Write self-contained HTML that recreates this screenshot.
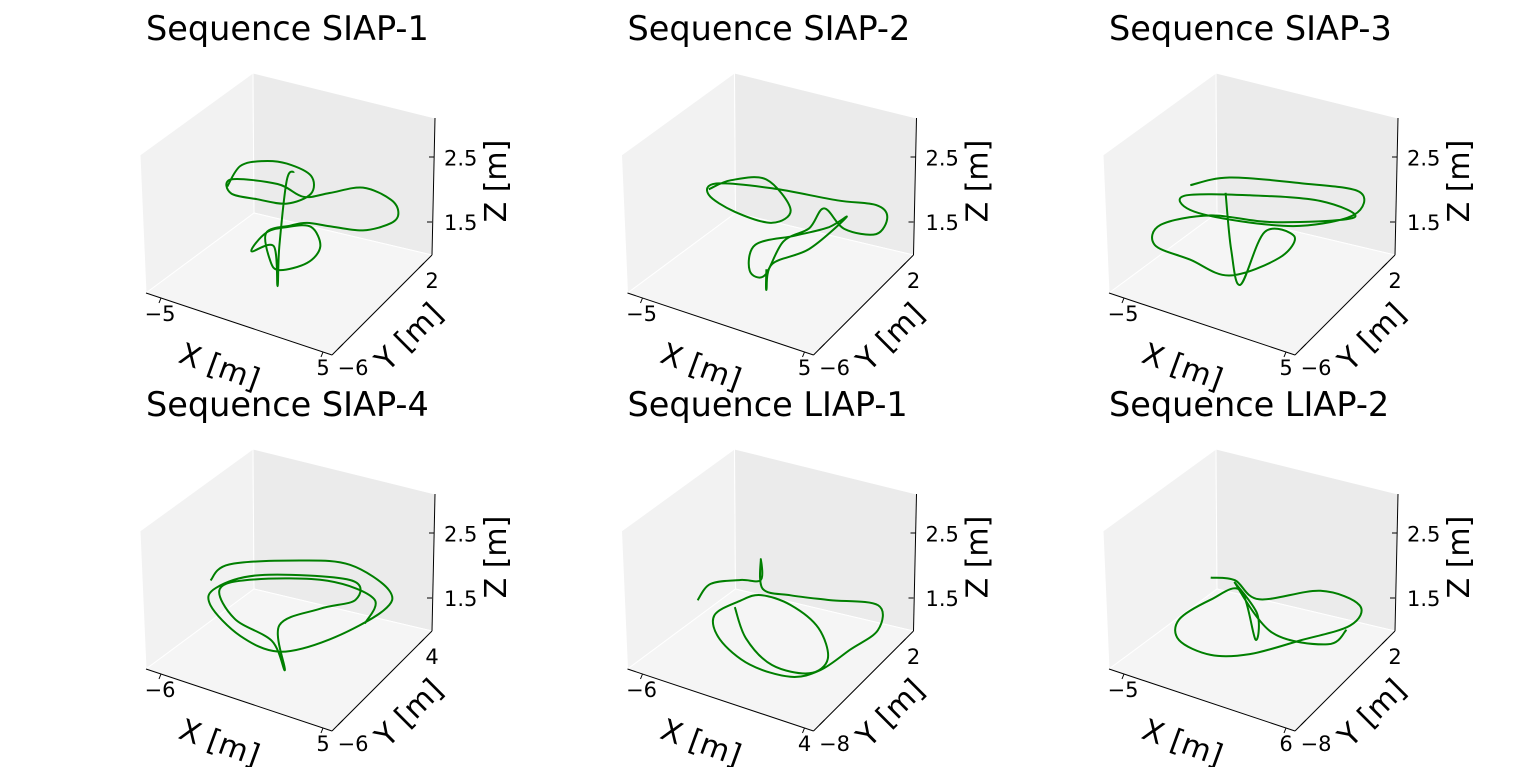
<!DOCTYPE html>
<html><head><meta charset="utf-8">
<style>
html,body{margin:0;padding:0;background:#fff;}
svg{display:block;font-family:"DejaVu Sans","Liberation Sans",sans-serif;}
</style></head>
<body>
<svg id="fig" width="1536" height="767" viewBox="0 0 1536 767" xmlns="http://www.w3.org/2000/svg"></svg>
<script>
// Panel titles and tick labels
const titles = ["Sequence SIAP-1","Sequence SIAP-2","Sequence SIAP-3","Sequence SIAP-4","Sequence LIAP-1","Sequence LIAP-2"];
const xTickMin = ["\u22125","\u22125","\u22125","\u22126","\u22126","\u22125"];
const xTickMax = ["5","5","5","5","4","6"];
const yTickMin = ["\u22126","\u22126","\u22126","\u22126","\u22128","\u22128"];
const yTickMax = ["2","2","2","4","2","2"];
const zTicks = ["1.5","2.5"];
const zTickVals = [0.24, 0.71];
// Trajectories in normalised cube coordinates (u = x fraction, w = height fraction), v fixed mid-depth
const traj1U = [0.16,0.23,0.35,0.48,0.61,0.61,0.48,0.32,0.18,0.18,0.43,0.57,0.71,0.89,1.04,1.08,1.04,0.89,0.71,0.59,0.50,0.37,0.39,0.44,0.59,0.66,0.61,0.48,0.37,0.29,0.41,0.43,0.44,0.48,0.52];
const traj1W = [0.51,0.69,0.78,0.82,0.79,0.66,0.53,0.49,0.47,0.57,0.65,0.62,0.71,0.83,0.81,0.73,0.64,0.52,0.47,0.44,0.38,0.27,0.08,0.03,0.15,0.30,0.42,0.36,0.27,0.10,0.19,-0.09,0.20,0.70,0.78];
const traj2U = [0.16,0.28,0.47,0.60,0.50,0.30,0.16,0.20,0.50,0.85,1.06,1.12,1.06,0.89,0.78,0.70,0.56,0.46,0.38,0.41,0.62,0.80,0.90,0.70,0.50,0.47,0.47];
const traj2W = [0.49,0.61,0.70,0.54,0.40,0.39,0.45,0.55,0.65,0.72,0.78,0.72,0.57,0.53,0.63,0.45,0.29,0.00,0.00,0.20,0.36,0.50,0.62,0.30,0.10,-0.10,0.05];
const traj3U = [0.16,0.37,0.75,1.07,1.04,0.75,0.43,0.16,0.13,0.48,0.86,1.04,0.60,0.27,0.00,-0.03,0.16,0.37,0.64,0.72,0.56,0.43,0.38,0.35];
const traj3W = [0.52,0.67,0.80,0.88,0.70,0.49,0.38,0.34,0.43,0.59,0.72,0.68,0.45,0.35,0.16,0.00,-0.02,-0.04,0.21,0.40,0.36,-0.08,0.15,0.55];
const traj4U = [0.07,0.17,0.55,0.82,1.03,1.00,0.71,0.44,0.23,0.07,0.10,0.34,0.82,0.85,0.66,0.44,0.47,0.40,0.20,0.12,0.30,0.70,0.95,0.90];
const traj4W = [0.34,0.50,0.70,0.79,0.70,0.54,0.20,-0.01,0.01,0.16,0.30,0.50,0.68,0.55,0.40,0.18,-0.13,0.05,0.12,0.30,0.45,0.62,0.60,0.40];
const traj5U = [0.10,0.17,0.33,0.44,0.44,0.45,0.60,0.81,1.07,1.07,0.92,0.76,0.60,0.38,0.22,0.19,0.33,0.44,0.60,0.75,0.80,0.70,0.50,0.36,0.30];
const traj5W = [0.21,0.36,0.46,0.51,0.66,0.45,0.47,0.53,0.61,0.43,0.22,0.00,-0.12,-0.13,-0.02,0.14,0.31,0.40,0.40,0.30,0.10,-0.05,-0.08,0.05,0.25];
const traj6U = [0.27,0.40,0.53,0.86,1.07,1.02,0.75,0.48,0.27,0.10,0.10,0.27,0.43,0.51,0.52,0.40,0.60,0.90,1.00];
const traj6W = [0.45,0.49,0.41,0.62,0.61,0.44,0.21,-0.01,-0.11,-0.08,0.07,0.29,0.43,0.11,0.30,0.47,0.20,0.25,0.40];
const trajU = [traj1U,traj2U,traj3U,traj4U,traj5U,traj6U];
const trajW = [traj1W,traj2W,traj3W,traj4W,traj5W,traj6W];

const NS = "http://www.w3.org/2000/svg";
const fig = document.getElementById('fig');
function mk(tag, attrs, parent){
  const e = document.createElementNS(NS, tag);
  for (const k in attrs) e.setAttribute(k, attrs[k]);
  parent.appendChild(e);
  return e;
}
const P0=[146,293], XV=[186,62], YV=[103,-92], ZV=[0,-138];
function proj(u,v,w){ return [P0[0]+u*XV[0]+v*YV[0]+w*ZV[0], P0[1]+u*XV[1]+v*YV[1]+w*ZV[1]]; }
function smoothPath(pts){
  let d = "M"+pts[0][0].toFixed(1)+","+pts[0][1].toFixed(1);
  for (let i=0;i<pts.length-1;i++){
    const p0=pts[Math.max(0,i-1)], p1=pts[i], p2=pts[i+1], p3=pts[Math.min(pts.length-1,i+2)];
    const c1=[p1[0]+(p2[0]-p0[0])/6, p1[1]+(p2[1]-p0[1])/6];
    const c2=[p2[0]-(p3[0]-p1[0])/6, p2[1]-(p3[1]-p1[1])/6];
    d += " C"+c1.map(n=>n.toFixed(1)).join(",")+" "+c2.map(n=>n.toFixed(1)).join(",")+" "+p2.map(n=>n.toFixed(1)).join(",");
  }
  return d;
}
const colOff=[0,481.5,963], rowOff=[0,376];
for (let i=0;i<6;i++){
  const g = mk('g',{transform:`translate(${colOff[i%3]},${rowOff[Math.floor(i/3)]})`},fig);
  
  
  const A=[140,155],B=[253,73],C=[435,118],D=[254,213],E=[146,293],F=[332,355],G=[432,255];
  const pl=(p)=>p.map(q=>q.join(',')).join(' ');
  const lp = mk('polygon',{points:pl([A,B,D,E]),fill:'#f2f2f2',stroke:'#ffffff','stroke-width':1},g);
   
  const bp = mk('polygon',{points:pl([B,C,G,D]),fill:'#ebebeb',stroke:'#ffffff','stroke-width':1},g);
   
  const fp = mk('polygon',{points:pl([E,D,G,F]),fill:'#f5f5f5',stroke:'#ffffff','stroke-width':1},g);
   
  const xa = mk('line',{x1:E[0],y1:E[1],x2:F[0],y2:F[1],stroke:'#000','stroke-width':1},g);
   
  const ya = mk('line',{x1:F[0],y1:F[1],x2:G[0],y2:G[1],stroke:'#000','stroke-width':1},g);
   
  const za = mk('line',{x1:G[0],y1:G[1],x2:C[0],y2:C[1],stroke:'#000','stroke-width':1},g);
   
  const tks=[[161,298,159,303],[323,352,321,357],[343,344,338,349],[424,263,419,268],[432,222,427,222],[434,157,429,157]];
  tks.forEach(t=>{ const l=mk('line',{x1:t[0],y1:t[1],x2:t[2],y2:t[3],stroke:'#000','stroke-width':1},g);
      });
  const tx=(x,y,s,anchor,size,name,rot)=>{ const t=mk('text',{x:x,y:y,'font-size':size,'text-anchor':anchor,fill:'#000'},g);
    if(rot) t.setAttribute('transform',`rotate(${rot} ${x} ${y})`);
    t.textContent=s;   return t; };
  tx(146,40,titles[i],'start',33.5,'panel-title');
  tx(160,321,xTickMin[i],'middle',21,'x-tick-min');
  tx(323,375,xTickMax[i],'middle',21,'x-tick-max');
  tx(353,375,yTickMin[i],'middle',21,'y-tick-min');
  tx(432,288,yTickMax[i],'middle',21,'y-tick-max');
  zTicks.forEach((s,k)=>{ tx(444, 255 - 137*zTickVals[k] + 8, s,'start',21,'z-tick-label'); });
  tx(216,376,'X [m]','middle',30,'x-axis-title',20);
  tx(416,344,'Y [m]','middle',30,'y-axis-title',-45);
  tx(506,181,'Z [m]','middle',30,'z-axis-title',-90);
  const pts = trajU[i].map((u,k)=>proj(u,0.5,trajW[i][k]));
  const p = mk('path',{d:smoothPath(pts),fill:'none',stroke:'#007f00','stroke-width':2,'stroke-linejoin':'round'},g);
  
  
}
</script>
</body></html>
